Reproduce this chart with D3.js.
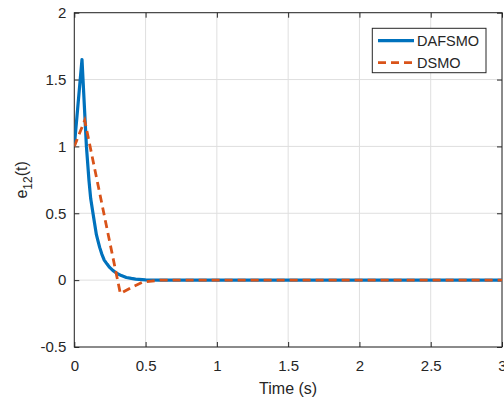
<!DOCTYPE html>
<html>
<head>
<meta charset="utf-8">
<script src="https://cdn.jsdelivr.net/npm/d3@7"></script>
<style>
  body { margin: 0; background: #fff; }
  text { font-family: "Liberation Sans", Arial, sans-serif; fill: #262626; }
</style>
</head>
<body>
<div id="chart"></div>
<script>
// data
const tDafsmo = [0, 0.054, 0.085, 0.103, 0.115, 0.131, 0.143, 0.155, 0.167, 0.178, 0.193, 0.21, 0.23, 0.248, 0.27, 0.30, 0.33, 0.365, 0.40, 0.43, 0.5, 0.6, 1, 2, 3];
const eDafsmo = [1, 1.65, 1.0, 0.745, 0.61, 0.5, 0.42, 0.34, 0.29, 0.245, 0.195, 0.15, 0.12, 0.095, 0.073, 0.05, 0.034, 0.02, 0.013, 0.008, 0.002, 0, 0, 0, 0];

const tDsmo = [0, 0.073, 0.323, 0.40, 0.48, 0.6, 1, 2, 3];
const eDsmo = [1, 1.195, -0.10, -0.055, -0.015, 0, 0, 0, 0];

const xTicks = [0, 0.5, 1, 1.5, 2, 2.5, 3];
const yTicks = [-0.5, 0, 0.5, 1, 1.5, 2];

const seriesNames = ["DAFSMO", "DSMO"];
const seriesColors = ["#0072BD", "#D95319"];

const W = 504, H = 399;
const margin = {top: 12.7, right: 2, bottom: 52, left: 74.3};

const svg = d3.select("#chart").append("svg")
    .attr("width", W)
    .attr("height", H);

const x = d3.scaleLinear().domain([0, 3]).range([margin.left, W - margin.right]);
const y = d3.scaleLinear().domain([-0.5, 2]).range([H - margin.bottom, margin.top]);

// grid
svg.append("g")
    .selectAll("line")
    .data(xTicks)
    .enter().append("line")
    .attr("x1", d => x(d)).attr("x2", d => x(d))
    .attr("y1", y(-0.5)).attr("y2", y(2))
    .attr("stroke", "#dfdfdf").attr("stroke-width", 1);

svg.append("g")
    .selectAll("line")
    .data(yTicks)
    .enter().append("line")
    .attr("x1", x(0)).attr("x2", x(3))
    .attr("y1", d => y(d)).attr("y2", d => y(d))
    .attr("stroke", "#dfdfdf").attr("stroke-width", 1);

// axes (ticks inward)
const fmt = d => String(d);

svg.append("g")
    .attr("transform", "translate(0," + y(-0.5) + ")")
    .call(d3.axisBottom(x).tickValues(xTicks).tickSizeInner(-5).tickSizeOuter(0).tickPadding(13).tickFormat(fmt))
    .call(g => g.select(".domain").remove());

svg.append("g")
    .attr("transform", "translate(" + x(0) + ",0)")
    .call(d3.axisLeft(y).tickValues(yTicks).tickSizeInner(-5).tickSizeOuter(0).tickPadding(8).tickFormat(fmt))
    .call(g => g.select(".domain").remove());

// top / right ticks
svg.append("g")
    .attr("transform", "translate(0," + y(2) + ")")
    .call(d3.axisTop(x).tickValues(xTicks).tickSizeInner(-5).tickSizeOuter(0).tickFormat(""))
    .call(g => g.select(".domain").remove());

svg.append("g")
    .attr("transform", "translate(" + x(3) + ",0)")
    .call(d3.axisRight(y).tickValues(yTicks).tickSizeInner(-5).tickSizeOuter(0).tickFormat(""))
    .call(g => g.select(".domain").remove());

svg.selectAll(".tick line").attr("stroke", "#262626");
svg.selectAll(".tick text")
    .style("font-size", "15px")
    .style("font-family", "'Liberation Sans', Arial, sans-serif")
    .attr("fill", "#262626");

// box
svg.append("rect")
    .attr("x", x(0)).attr("y", y(2))
    .attr("width", x(3) - x(0)).attr("height", y(-0.5) - y(2))
    .attr("fill", "none")
    .attr("stroke", "#262626").attr("stroke-width", 1);

// lines
const line = d3.line()
    .x(d => x(d[0]))
    .y(d => y(d[1]));

svg.append("clipPath").attr("id", "clip")
    .append("rect")
    .attr("x", x(0)).attr("y", y(2))
    .attr("width", x(3) - x(0)).attr("height", y(-0.5) - y(2));

svg.append("path")
    .datum(d3.zip(tDafsmo, eDafsmo))
    .attr("clip-path", "url(#clip)")
    .attr("fill", "none")
    .attr("stroke", seriesColors[0])
    .attr("stroke-width", 3.2)
    .attr("stroke-linejoin", "round")
    .attr("d", line);

svg.append("path")
    .datum(d3.zip(tDsmo, eDsmo))
    .attr("clip-path", "url(#clip)")
    .attr("fill", "none")
    .attr("stroke", seriesColors[1])
    .attr("stroke-width", 2.8)
    .attr("stroke-dasharray", "8,5")
    .attr("d", line);

// axis labels
svg.append("text")
    .attr("x", (x(0) + x(3)) / 2)
    .attr("y", 394)
    .attr("text-anchor", "middle")
    .style("font-size", "16px")
    .text("Time (s)");

const yl = svg.append("text")
    .attr("transform", "translate(27," + ((y(-0.5) + y(2)) / 2) + ") rotate(-90)")
    .attr("text-anchor", "middle")
    .style("font-size", "16px");
yl.append("tspan").text("e");
yl.append("tspan").attr("dy", 5).style("font-size", "12px").text("12");
yl.append("tspan").attr("dy", -5).text("(t)");

// legend
const legend = svg.append("g").attr("class", "legend");

legend.append("rect")
    .attr("x", 372.3).attr("y", 28.3)
    .attr("width", 113.7).attr("height", 44.4)
    .attr("fill", "#fff")
    .attr("stroke", "#262626").attr("stroke-width", 1);

seriesNames.forEach(function (name, i) {
    let ly = 40.7 + i * 22;
    legend.append("line")
        .attr("x1", 378).attr("x2", 414)
        .attr("y1", ly).attr("y2", ly)
        .attr("stroke", seriesColors[i])
        .attr("stroke-width", i === 0 ? 3.2 : 2.8)
        .attr("stroke-dasharray", i === 0 ? null : "8,5");
    legend.append("text")
        .attr("x", 417)
        .attr("y", ly + 5)
        .style("font-size", "14.5px")
        .attr("fill", "#000")
        .text(name);
});
</script>
</body>
</html>
